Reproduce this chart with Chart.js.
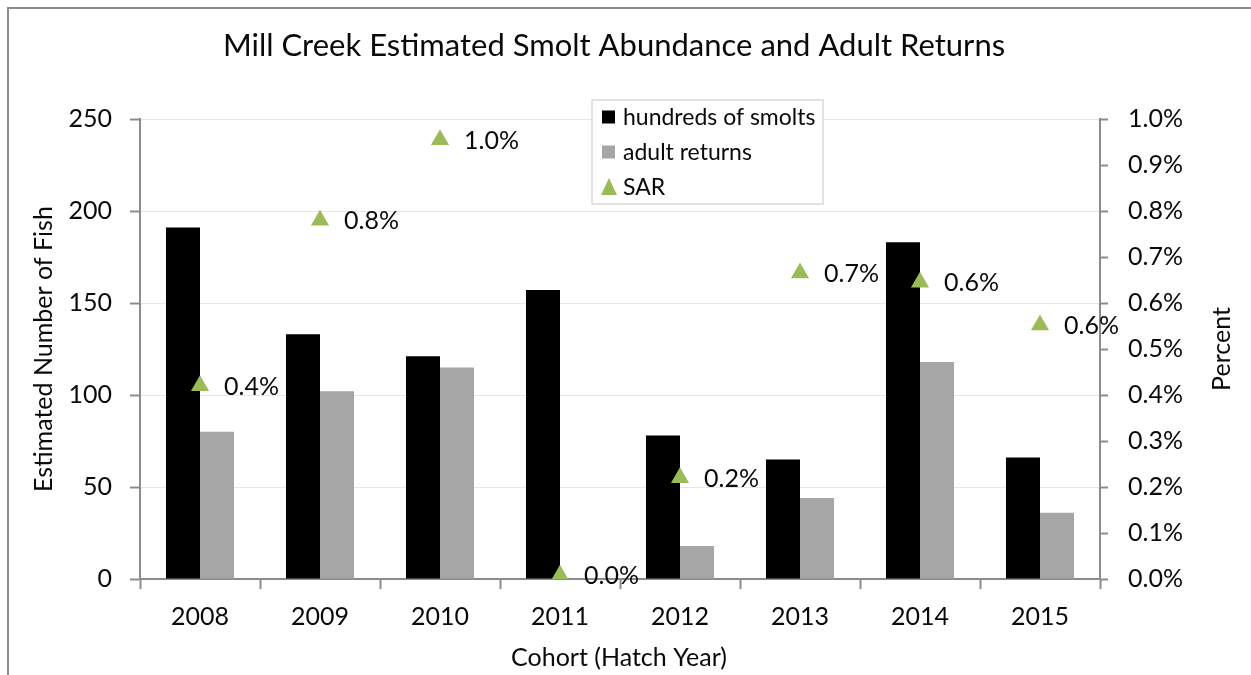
<!DOCTYPE html>
<html>
<head>
<meta charset="utf-8">
<script src="https://cdn.jsdelivr.net/npm/chart.js@4.4.1/dist/chart.umd.min.js"></script>
<style>
  html, body { margin: 0; padding: 0; background: #fff; }
  #wrap { position: relative; width: 1251px; height: 675px; }
</style>
</head>
<body>
<div id="wrap"><canvas id="smoltChart"></canvas></div>
<script>
// values
const cohortYears = ['2008', '2009', '2010', '2011', '2012', '2013', '2014', '2015'];
const smoltsHundreds = [191, 133, 121, 157, 78, 65, 183, 66];
const adultReturns = [80, 102, 115, 0, 18, 44, 118, 36];
const sarPercent = [0.42, 0.78, 0.955, 0.008, 0.22, 0.665, 0.645, 0.552];

const fishTicks = [0, 50, 100, 150, 200, 250];
const percentTicks = [0, 0.1, 0.2, 0.3, 0.4, 0.5, 0.6, 0.7, 0.8, 0.9, 1.0];

const FONT = 'Lato, "Open Sans", sans-serif';
const TEXT = '#0a0a0a';
const AXIS_GREY = '#8c8c8c';
const SAR_GREEN = '#9bbb59';

const decorations = {
  id: 'decorations',
  beforeDraw(chart) {
    const { ctx, width, height } = chart;
    ctx.save();
    ctx.fillStyle = '#fff';
    ctx.fillRect(0, 0, width, height);
    // outer frame (only top and left edges are visible in the picture)
    ctx.strokeStyle = AXIS_GREY;
    ctx.lineWidth = 2;
    ctx.beginPath();
    ctx.moveTo(8, height);
    ctx.lineTo(8, 8);
    ctx.lineTo(width, 8);
    ctx.stroke();
    ctx.restore();
  },
  afterDatasetsDraw(chart) {
    const { ctx } = chart;
    const meta = chart.getDatasetMeta(2);
    ctx.save();
    ctx.fillStyle = TEXT;
    ctx.font = '25px ' + FONT;
    ctx.textAlign = 'left';
    ctx.textBaseline = 'middle';
    meta.data.forEach((pt, i) => {
      ctx.fillText(sarPercent[i].toFixed(1) + '%', pt.x + 24, pt.y + 1);
    });
    ctx.restore();
  },
  afterDraw(chart) {
    const { ctx, chartArea } = chart;
    ctx.save();
    ctx.fillStyle = TEXT;

    // title
    ctx.font = '31px ' + FONT;
    ctx.textAlign = 'center';
    ctx.textBaseline = 'middle';
    ctx.fillText('Mill Creek Estimated Smolt Abundance and Adult Returns', 614, 46);

    // axis titles
    const midY = (chartArea.top + chartArea.bottom) / 2;
    ctx.font = '25px ' + FONT;
    ctx.fillText('Cohort (Hatch Year)', 619, 658);
    ctx.save();
    ctx.translate(44, midY);
    ctx.rotate(-Math.PI / 2);
    ctx.fillText('Estimated Number of Fish', 0, 0);
    ctx.restore();
    ctx.save();
    ctx.translate(1222, midY);
    ctx.rotate(-Math.PI / 2);
    ctx.fillText('Percent', 0, 0);
    ctx.restore();

    // legend box
    const lx = 592, ly = 100, lw = 231, lh = 104;
    ctx.fillStyle = '#fff';
    ctx.fillRect(lx, ly, lw, lh);
    ctx.strokeStyle = '#d9d9d9';
    ctx.lineWidth = 1.5;
    ctx.strokeRect(lx, ly, lw, lh);

    const rows = [117, 152, 187];
    ctx.font = '23px ' + FONT;
    ctx.textAlign = 'left';
    ctx.textBaseline = 'middle';
    chart.data.datasets.forEach((ds, i) => {
      const cy = rows[i];
      ctx.fillStyle = ds.backgroundColor;
      if (ds.type === 'line') {
        ctx.beginPath();
        ctx.moveTo(609, cy - 9);
        ctx.lineTo(617, cy + 8);
        ctx.lineTo(601, cy + 8);
        ctx.closePath();
        ctx.fill();
      } else {
        ctx.fillRect(602, cy - 6.5, 13, 13);
      }
      ctx.fillStyle = TEXT;
      ctx.fillText(ds.label, 623, cy + 1);
    });
    ctx.restore();
  }
};

const tickFont = { family: FONT, size: 25 };

new Chart(document.getElementById('smoltChart'), {
  type: 'bar',
  data: {
    labels: cohortYears,
    datasets: [
      {
        label: 'hundreds of smolts',
        data: smoltsHundreds,
        backgroundColor: '#000000',
        yAxisID: 'y',
        order: 1,
        categoryPercentage: 0.567,
        barPercentage: 1
      },
      {
        label: 'adult returns',
        data: adultReturns,
        backgroundColor: '#a6a6a6',
        yAxisID: 'y',
        order: 1,
        categoryPercentage: 0.567,
        barPercentage: 1
      },
      {
        type: 'line',
        label: 'SAR',
        data: sarPercent,
        yAxisID: 'y1',
        order: 0,
        showLine: false,
        pointStyle: 'triangle',
        pointRadius: 10.5,
        pointBorderWidth: 0,
        backgroundColor: SAR_GREEN,
        borderColor: SAR_GREEN
      }
    ]
  },
  options: {
    responsive: true,
    maintainAspectRatio: false,
    animation: false,
    events: [],
    layout: { padding: { top: 119, left: 0, right: 0, bottom: 0 } },
    plugins: {
      legend: { display: false },
      title: { display: false },
      tooltip: { enabled: false }
    },
    scales: {
      x: {
        offset: true,
        grid: {
          offset: true,
          drawOnChartArea: false,
          drawTicks: true,
          tickLength: 10,
          tickColor: AXIS_GREY,
          tickWidth: 2
        },
        border: { color: AXIS_GREY, width: 2 },
        ticks: { font: tickFont, color: TEXT, padding: 13, maxRotation: 0 },
        afterFit(scale) { scale.height = 96; }
      },
      y: {
        position: 'left',
        min: 0,
        max: 250,
        afterBuildTicks(axis) { axis.ticks = fishTicks.map(v => ({ value: v })); },
        grid: {
          color: '#e6e6e6',
          lineWidth: 1,
          drawTicks: true,
          tickLength: 10,
          tickColor: AXIS_GREY,
          tickWidth: 2
        },
        border: { color: AXIS_GREY, width: 2 },
        ticks: { font: tickFont, color: TEXT, padding: 18 },
        afterFit(scale) { scale.width = 140; }
      },
      y1: {
        position: 'right',
        min: 0,
        max: 1,
        afterBuildTicks(axis) { axis.ticks = percentTicks.map(v => ({ value: v })); },
        grid: {
          drawOnChartArea: false,
          drawTicks: true,
          tickLength: 8,
          tickColor: AXIS_GREY,
          tickWidth: 2
        },
        border: { color: AXIS_GREY, width: 2 },
        ticks: {
          font: tickFont,
          color: TEXT,
          padding: 20,
          callback: v => v.toFixed(1) + '%'
        },
        afterFit(scale) { scale.width = 151; }
      }
    }
  },
  plugins: [decorations]
});
</script>
</body>
</html>
